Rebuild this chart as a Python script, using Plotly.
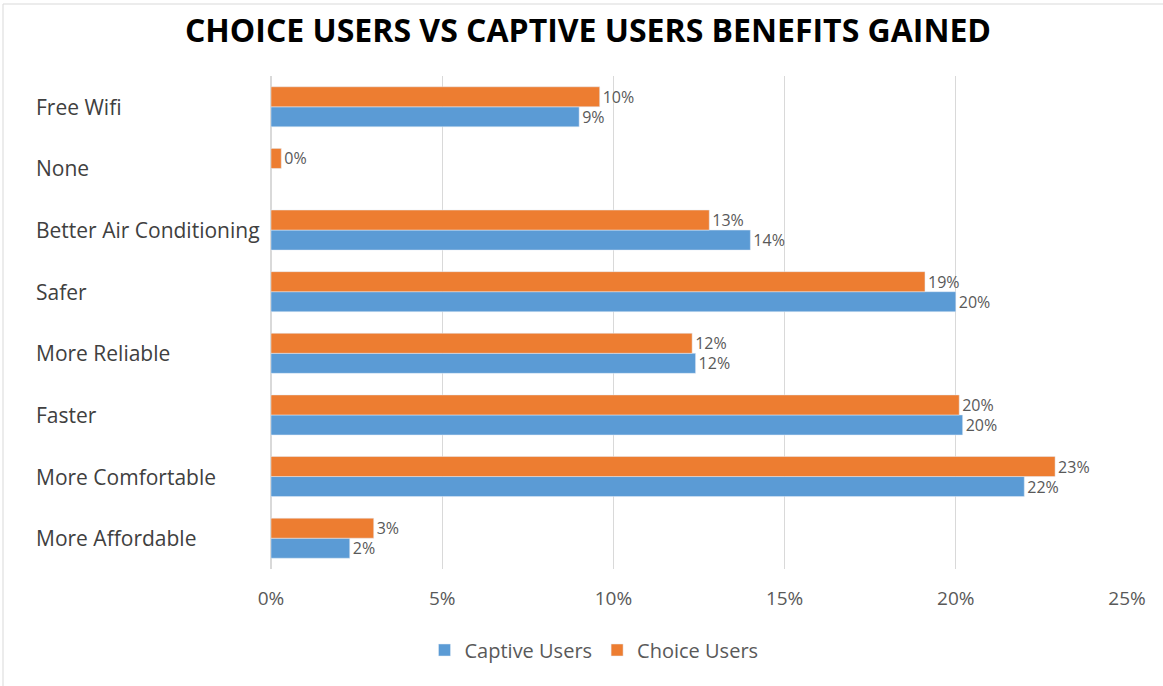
import plotly.graph_objects as go

# Benefits listed bottom-to-top as they appear on the category axis
categories = ["More Affordable", "More Comfortable", "Faster", "More Reliable",
              "Safer", "Better Air Conditioning", "None", "Free Wifi"]
captive_users = [0.023, 0.220, 0.202, 0.124, 0.200, 0.140, None, 0.090]
choice_users = [0.030, 0.229, 0.201, 0.123, 0.191, 0.128, 0.003, 0.096]
x_ticks = [0, 0.05, 0.10, 0.15, 0.20, 0.25]
x_tick_labels = ["0%", "5%", "10%", "15%", "20%", "25%"]

BLUE = "#5b9bd5"
ORANGE = "#ed7d31"
LABEL_GREY = "#595959"
FONT = "Open Sans, Liberation Sans, sans-serif"

W, H = 1163, 686
L, R, T, B = 271, 36, 76, 117
plot_w = W - L - R
plot_h = H - T - B


def pct_text(vals):
    return ["" if v is None else f"{round(v * 100):d}%" for v in vals]


fig = go.Figure()
fig.add_trace(go.Bar(
    name="Captive Users", y=categories, x=captive_users, orientation="h",
    marker=dict(color=BLUE), text=pct_text(captive_users),
    textposition="outside", cliponaxis=False, constraintext="none",
    textfont=dict(color=LABEL_GREY, size=16, family=FONT),
))
fig.add_trace(go.Bar(
    name="Choice Users", y=categories, x=choice_users, orientation="h",
    marker=dict(color=ORANGE), text=pct_text(choice_users),
    textposition="outside", cliponaxis=False, constraintext="none",
    textfont=dict(color=LABEL_GREY, size=16, family=FONT),
))

# Left-aligned category names
for cat in categories:
    fig.add_annotation(
        x=(34 - L) / plot_w, xref="paper", y=cat, yref="y",
        text=cat, showarrow=False, xanchor="left", yanchor="middle",
        font=dict(color="#404040", size=21, family=FONT),
    )

# Outer chart border (top and left edges fall inside the canvas)
fig.add_shape(
    type="rect", xref="paper", yref="paper",
    x0=(3 - L) / plot_w, x1=(W + 10 - L) / plot_w,
    y0=(H - B - (H + 10)) / plot_h, y1=(H - B - 4) / plot_h,
    line=dict(color="#d9d9d9", width=1), layer="below",
)

fig.update_layout(
    width=W, height=H,
    margin=dict(l=L, r=R, t=T, b=B),
    paper_bgcolor="white", plot_bgcolor="white",
    barmode="group", bargap=0.35, bargroupgap=0,
    title=dict(
        text="<b>CHOICE USERS VS CAPTIVE USERS BENEFITS GAINED</b>",
        x=588 / W, xanchor="center", xref="container",
        y=1 - 31 / H, yanchor="middle", yref="container",
        font=dict(family="Liberation Sans Narrow, " + FONT, size=32, color="black"),
    ),
    xaxis=dict(
        range=[0, 0.25], tickvals=x_ticks, ticktext=x_tick_labels,
        showgrid=True, gridcolor="#d9d9d9", gridwidth=1,
        zeroline=True, zerolinecolor="#d9d9d9",
        ticks="outside", ticklen=12, tickcolor="rgba(0,0,0,0)",
        tickfont=dict(color=LABEL_GREY, size=19, family=FONT),
        showline=False, fixedrange=True,
    ),
    yaxis=dict(
        categoryorder="array", categoryarray=categories,
        showticklabels=False, showgrid=False, zeroline=False,
        range=[-0.5, len(categories) - 0.5],
    ),
    legend=dict(
        orientation="h", x=(594 - L) / plot_w, xanchor="center",
        y=(H - B - 650) / plot_h, yanchor="middle",
        font=dict(color=LABEL_GREY, size=20, family=FONT),
        traceorder="normal", itemwidth=30,
    ),
)

fig.write_html("out.html")
